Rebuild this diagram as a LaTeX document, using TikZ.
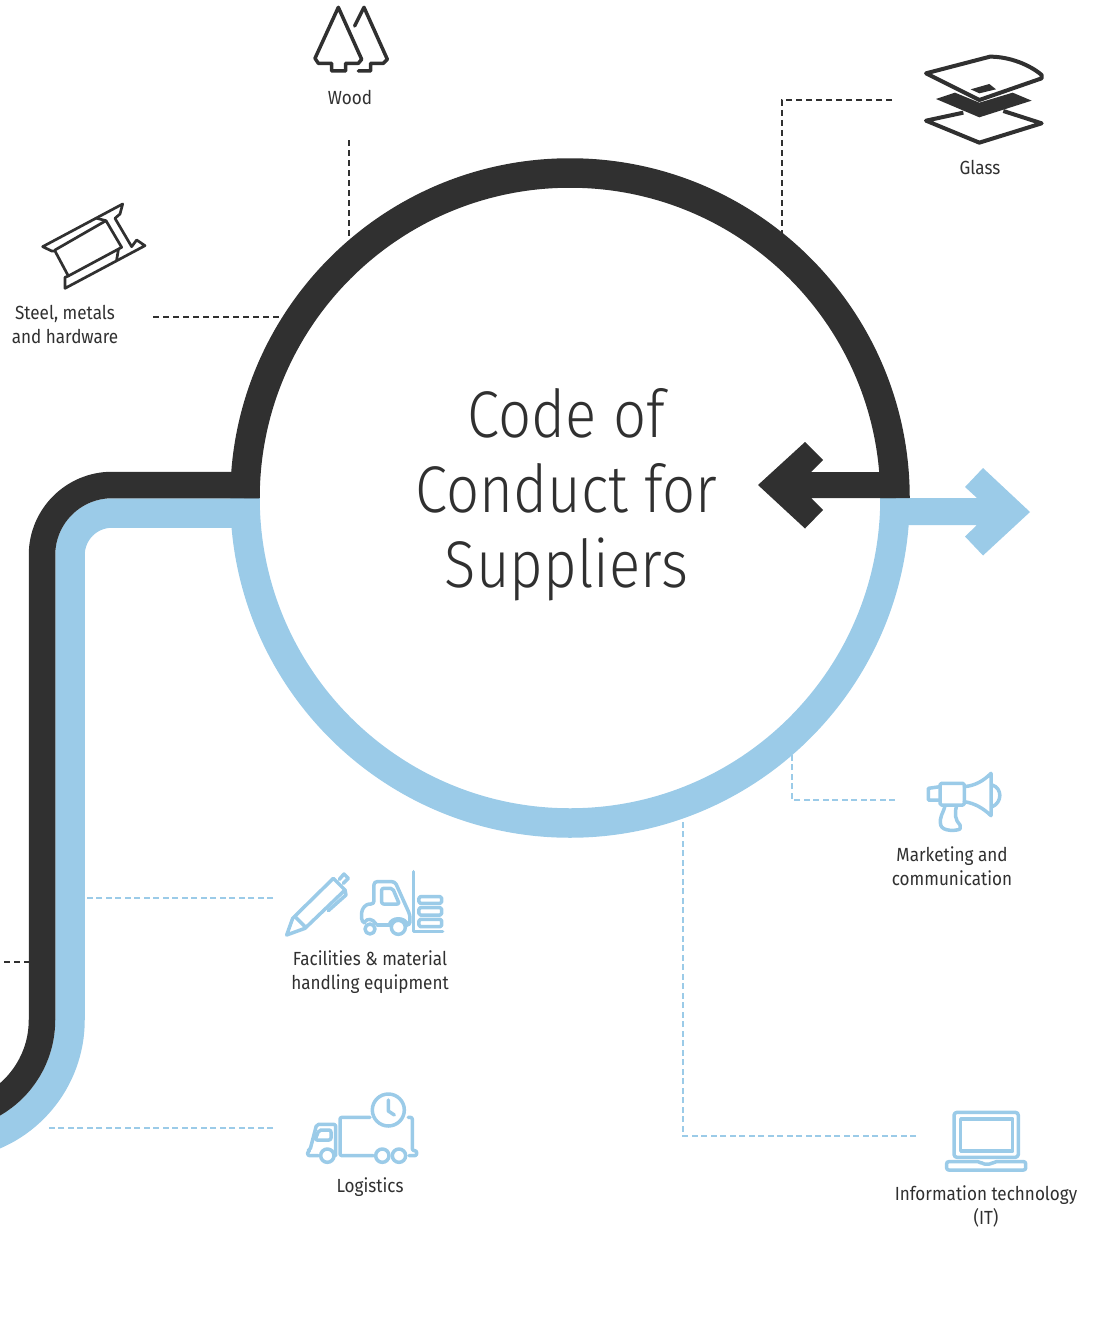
\documentclass[tikz,border=0pt]{standalone}
\usepackage{fontspec}
\setmainfont[FakeStretch=0.9]{Fira Sans}
\newfontfamily\titlefont[FakeStretch=0.88]{Fira Sans Light}
\definecolor{inkdark}{HTML}{303030}
\definecolor{skyblue}{HTML}{9BCBE8}
\tikzset{
  band/.style={line width=#1,line cap=butt},
  darkdash/.style={draw=inkdark,line width=1.8pt,dash pattern=on 6pt off 4pt},
  bluedash/.style={draw=skyblue,line width=1.8pt,dash pattern=on 6pt off 3.5pt},
  label/.style={text=inkdark,align=center,font=\fontsize{19}{24}\selectfont,inner sep=0pt},
  darkicon/.style={draw=inkdark,line width=3.5pt,line join=round,line cap=round},
  blueicon/.style={draw=skyblue,line width=3.5pt,line join=round,line cap=round},
  zoomed/.style={x=0.3333pt,y=-0.3333pt}
}
\begin{document}
\begin{tikzpicture}[x=1pt,y=-1pt]
\useasboundingbox (0,0) rectangle (1100,1327);
\clip (0,0) rectangle (1100,1327);
% connector ends
\coordinate (woodA) at (349,140); \coordinate (woodB) at (349,238);
\coordinate (glassA) at (892,100); \coordinate (glassK) at (782,100); \coordinate (glassB) at (782,235);
\coordinate (steelA) at (153,317); \coordinate (steelB) at (285,317);
\coordinate (stubA) at (4,962); \coordinate (stubB) at (30,962);
\coordinate (facA) at (273,898); \coordinate (facB) at (84,898);
\coordinate (logA) at (273,1128); \coordinate (logB) at (45,1128);
\coordinate (mktA) at (895,800); \coordinate (mktK) at (792,800); \coordinate (mktB) at (792,752);
\coordinate (itA) at (916,1136); \coordinate (itK) at (683,1136); \coordinate (itB) at (683,816);
% dashed connectors
\draw[darkdash] (woodA) -- (woodB);
\draw[darkdash] (glassA) -- (glassK) -- (glassB);
\draw[darkdash] (steelA) -- (steelB);
\draw[darkdash] (stubA) -- (stubB);
\draw[bluedash] (facA) -- (facB);
\draw[bluedash] (logA) -- (logB);
\draw[bluedash] (mktA) -- (mktK) -- (mktB);
\draw[bluedash] (itA) -- (itK) -- (itB);
% blue band and arrow
\fill[skyblue] (880,498) -- (977,498) -- (965,487) -- (983,468) -- (1030,512) -- (983,555.5) -- (965,536.5) -- (977,525) -- (880,525) -- cycle;
\draw[band=29.5pt,draw=skyblue] (895,498) arc[start angle=0,end angle=-180,x radius=325,y radius=-325];
\draw[band=29.5pt,draw=skyblue] (259,513) -- (112,513) arc[start angle=90,end angle=180,x radius=42,y radius=-42] -- (70,1020) arc[start angle=0,end angle=-80,x radius=125,y radius=-125];
% dark band and arrow
\draw[band=26.5pt,draw=inkdark] (259,485) -- (112,485) arc[start angle=90,end angle=180,x radius=70,y radius=-70] -- (42,1020) arc[start angle=0,end angle=-80,x radius=97,y radius=-97];
\draw[band=29.5pt,draw=inkdark] (245,498) arc[start angle=180,end angle=0,x radius=325,y radius=-325];
\fill[inkdark] (890,472) -- (811,472) -- (823,460) -- (805,442) -- (758,485) -- (805,528.5) -- (823,510) -- (811,498) -- (909.5,498) -- (905,472) -- cycle;
% title
\node[text=inkdark,align=center,inner sep=0pt,font=\titlefont\fontsize{66}{75}\selectfont] (title) at (566.5,495) {Code of\\Conduct for\\Suppliers};
% labels
\node[label] (wood) at (350,97.5) {Wood};
\node[label] (glass) at (980,167.5) {Glass};
\node[label] (steel) at (65,324.5) {Steel, metals\\and hardware};
\node[label] (market) at (952,866.5) {Marketing and\\communication};
\node[label] (facil) at (370,972.5) {Facilities \& material\\handling equipment};
\node[label] (logis) at (370,1187) {Logistics};
\node[label] (infot) at (986,1206.5) {Information technology\\(IT)};
% wood icon
\begin{scope}[shift={(280,0)},zoomed]
\draw[darkicon] (175,22) -- (105,175) -- (115,190) -- (155,190) -- (155,213) -- (197,213) -- (197,190) -- (235,190) -- (245,178) -- cycle;
\draw[darkicon] (224,78) -- (252,22) -- (322,178) -- (310,190) -- (272,190) -- (272,213) -- (235,213);
\end{scope}
% glass icon
\begin{scope}[shift={(900,40)},zoomed]
\draw[darkicon,line width=4pt] (78,100) -- (270,50) .. controls (330,50) and (390,75) .. (425,105) -- (425,115) -- (238,180) -- cycle;
\fill[inkdark] (212,148) -- (268,132) -- (288,148) -- (238,160) -- cycle;
\fill[inkdark] (108,177) -- (165,158) -- (238,188) -- (338,158) -- (395,182) -- (238,232) -- cycle;
\draw[darkicon,line width=4pt,line cap=butt] (190,218) -- (78,242) -- (238,308) -- (425,250) -- (310,213);
\end{scope}
% steel icon
\begin{scope}[shift={(20,190)},zoomed]
\draw[darkicon,line width=2.7pt] (68,170) -- (308,42) -- (300,72) -- (285,85) -- (335,170) -- (350,150) -- (375,167) -- (135,295) -- (135,262) -- (145,258) -- (105,183) -- (95,183) -- cycle;
\draw[darkicon,line width=2.7pt] (105,180) -- (258,92) -- (305,172) -- (145,258);
\draw[darkicon,line width=2.7pt] (230,85) -- (258,92);
\draw[darkicon,line width=2.7pt] (295,180) -- (290,210);
\end{scope}
% facilities icons
\begin{scope}[shift={(270,860)},zoomed]
\draw[blueicon] (68,175) -- (190,55) -- (225,90) -- (105,205) -- (50,225) -- cycle;
\draw[blueicon] (75,170) -- (105,200);
\draw[blueicon] (208,58) -- (222,42) -- (235,55) -- (220,70);
\draw[blueicon] (225,90) -- (228,105) -- (175,152);
\draw[blueicon] (430,35) -- (430,215) -- (518,215);
\draw[blueicon,rounded corners=1.5pt] (447,110) rectangle (515,130);
\draw[blueicon,rounded corners=1.5pt] (447,143) rectangle (515,165);
\draw[blueicon,rounded corners=1.5pt] (447,178) rectangle (515,200);
\draw[blueicon,rounded corners=3pt] (282,188) -- (275,185) -- (275,150) -- (290,132) -- (312,132) -- (312,65) -- (375,65) -- (420,165) -- (420,195) -- (412,195);
\draw[blueicon,rounded corners=2pt] (335,85) -- (368,85) -- (388,132) -- (335,132) -- cycle;
\draw[blueicon] (300,207) circle[radius=15];
\draw[blueicon] (385,202) circle[radius=21];
\draw[blueicon] (322,195) -- (358,195);
\draw[blueicon] (285,185) .. controls (292,175) and (308,175) .. (318,192);
\draw[blueicon] (358,195) .. controls (362,170) and (408,170) .. (412,195);
\end{scope}
% logistics icon
\begin{scope}[shift={(295,1085)},zoomed]
\draw[blueicon] (280,75) circle[radius=48];
\draw[blueicon] (280,45) -- (280,78) -- (298,90);
\draw[blueicon,rounded corners=2pt] (225,97) -- (135,97) -- (135,212) -- (235,212);
\draw[blueicon,rounded corners=2pt] (340,97) -- (352,97) -- (352,197) -- (365,197) -- (365,212) -- (342,212);
\draw[blueicon] (262,212) circle[radius=20];
\draw[blueicon] (312,212) circle[radius=20];
\draw[blueicon] (97,212) circle[radius=20];
\draw[blueicon,rounded corners=2pt] (122,212) -- (122,118) -- (65,118) -- (45,195) -- (38,198) -- (38,212) -- (70,212);
\draw[blueicon,rounded corners=2pt] (72,135) -- (108,135) -- (108,165) -- (60,165) -- cycle;
\end{scope}
% marketing icon
\begin{scope}[shift={(915,765)},zoomed]
\draw[blueicon] (75,65) -- (40,70) -- (40,105) -- (75,105);
\draw[blueicon,rounded corners=1.5pt] (75,55) rectangle (148,120);
\draw[blueicon] (148,65) .. controls (180,62) and (205,48) .. (228,25) -- (228,152) .. controls (205,130) and (180,115) .. (148,110);
\draw[blueicon] (232,60) .. controls (262,70) and (262,112) .. (232,125);
\draw[blueicon] (90,122) .. controls (85,145) and (72,155) .. (77,180) .. controls (82,200) and (125,198) .. (135,192) -- (135,180) .. controls (120,165) and (118,145) .. (125,122);
\end{scope}
% IT icon
\begin{scope}[shift={(935,1100)},zoomed]
\draw[blueicon,rounded corners=3pt] (57,172) -- (57,37) -- (250,37) -- (250,172) -- cycle;
\draw[blueicon] (77,57) rectangle (233,153);
\draw[blueicon,rounded corners=2pt] (35,185) -- (135,185) -- (142,192) -- (170,192) -- (178,185) -- (272,185) -- (272,210) -- (35,210) -- cycle;
\end{scope}
\end{tikzpicture}
\end{document}
